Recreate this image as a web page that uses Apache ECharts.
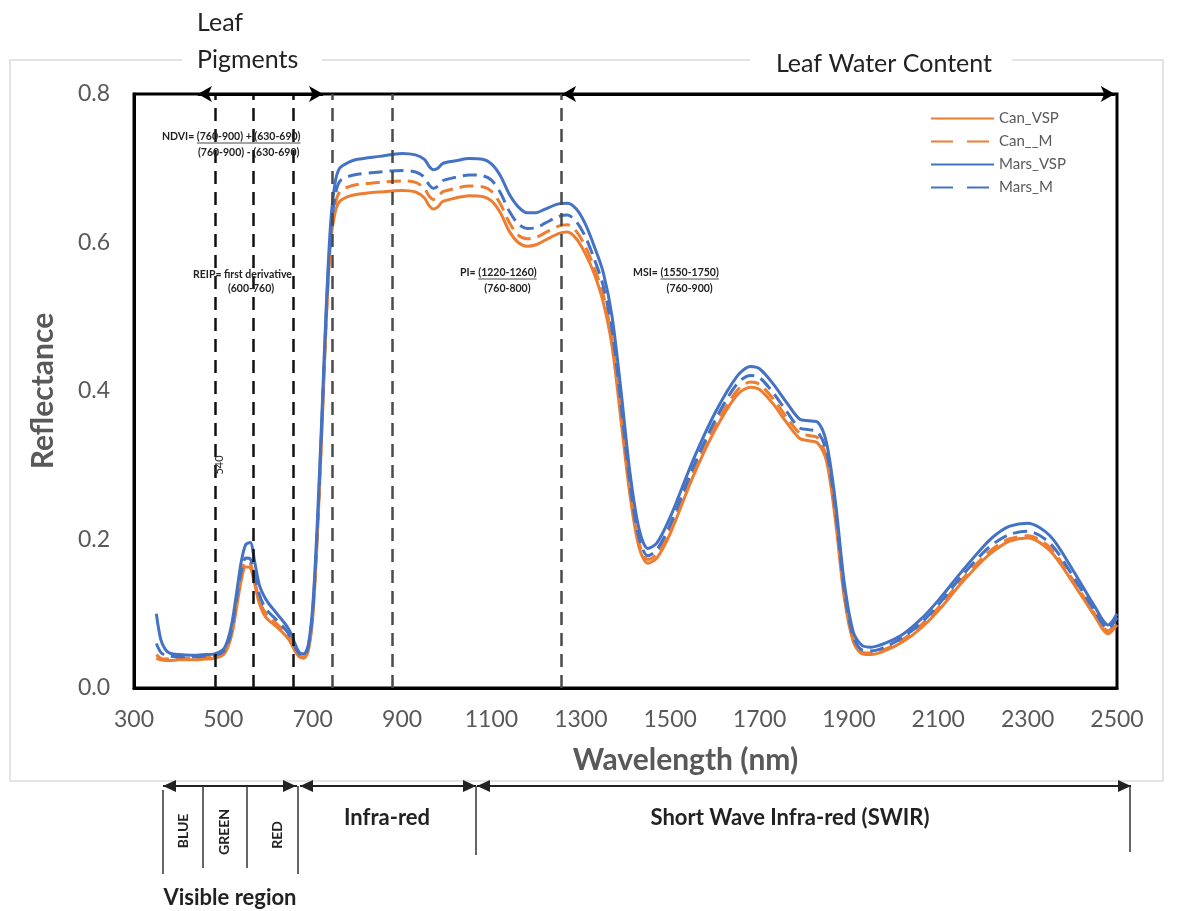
<!DOCTYPE html>
<html><head><meta charset="utf-8">
<script src="https://cdn.jsdelivr.net/npm/echarts@6.0.0/dist/echarts.min.js"></script>
<style>html,body{margin:0;padding:0;background:#fff}#c{width:1179px;height:911px}</style>
</head><body><div id="c"></div><script>
// ---- data ----
const wavelengths = [
  350,360,370,380,400,430,460,480,
  500,510,520,530,540,550,560,570,580,590,600,
  620,640,650,660,670,680,690,700,710,720,730,740,750,760,780,800,
  850,900,930,950,960,970,980,990,1000,1020,1050,1080,1100,
  1120,1140,1160,1180,1200,1220,1250,1270,1290,1310,1330,1350,1370,1390,1410,1430,1450,
  1470,1500,1550,1600,1650,1680,1700,1730,1760,1790,1810,1830,1850,
  1870,1890,1910,1930,1950,1980,2020,2060,2100,2150,2200,2230,2260,2300,2350,2400,2450,2480,2500
];
const canVSP = [
  0.040,0.038,0.037,0.037,0.038,0.038,0.039,0.040,
  0.045,0.055,0.075,0.110,0.145,0.163,0.162,0.140,0.115,0.100,0.092,
  0.082,0.070,0.062,0.050,0.042,0.040,0.050,0.095,0.200,0.340,0.490,0.600,0.640,0.655,0.662,0.665,
  0.668,0.670,0.668,0.660,0.650,0.645,0.648,0.655,0.657,0.660,0.663,0.662,0.656,
  0.640,0.615,0.600,0.595,0.597,0.603,0.612,0.614,0.605,0.585,0.558,0.520,0.460,0.360,0.260,0.190,0.168,
  0.175,0.208,0.283,0.347,0.395,0.405,0.402,0.383,0.358,0.336,0.333,0.330,0.305,
  0.225,0.120,0.062,0.046,0.045,0.050,0.062,0.080,0.104,0.140,0.172,0.187,0.198,0.202,0.185,0.143,0.097,0.073,0.085
];
const canM = [
  0.045,0.040,0.039,0.039,0.040,0.040,0.041,0.042,
  0.047,0.058,0.080,0.118,0.152,0.170,0.168,0.145,0.120,0.105,0.097,
  0.086,0.074,0.065,0.053,0.044,0.042,0.053,0.100,0.205,0.345,0.495,0.605,0.650,0.668,0.675,0.678,
  0.681,0.683,0.681,0.673,0.663,0.658,0.661,0.668,0.670,0.673,0.676,0.675,0.669,
  0.652,0.627,0.610,0.605,0.607,0.613,0.622,0.624,0.615,0.595,0.566,0.530,0.470,0.370,0.266,0.196,0.173,
  0.180,0.213,0.288,0.352,0.401,0.412,0.409,0.390,0.365,0.343,0.340,0.337,0.311,
  0.232,0.125,0.065,0.048,0.047,0.052,0.065,0.084,0.108,0.144,0.176,0.191,0.201,0.205,0.189,0.147,0.100,0.077,0.090
];
const marsVSP = [
  0.100,0.065,0.052,0.047,0.045,0.044,0.045,0.046,
  0.052,0.065,0.090,0.130,0.170,0.193,0.196,0.170,0.140,0.125,0.115,
  0.100,0.085,0.075,0.060,0.048,0.046,0.058,0.110,0.220,0.360,0.510,0.625,0.680,0.700,0.708,0.712,
  0.716,0.720,0.718,0.712,0.703,0.698,0.700,0.706,0.708,0.710,0.713,0.712,0.706,
  0.690,0.665,0.648,0.640,0.640,0.645,0.652,0.653,0.645,0.625,0.595,0.560,0.500,0.400,0.290,0.215,0.188,
  0.195,0.230,0.305,0.370,0.420,0.433,0.430,0.410,0.385,0.362,0.360,0.358,0.330,
  0.250,0.140,0.075,0.057,0.055,0.060,0.072,0.092,0.118,0.155,0.190,0.207,0.218,0.222,0.205,0.160,0.110,0.085,0.100
];
const marsM = [
  0.060,0.048,0.044,0.043,0.042,0.042,0.043,0.044,
  0.049,0.060,0.083,0.122,0.157,0.175,0.174,0.152,0.127,0.112,0.103,
  0.091,0.078,0.069,0.056,0.046,0.044,0.055,0.104,0.210,0.350,0.500,0.612,0.662,0.682,0.689,0.692,
  0.695,0.697,0.695,0.688,0.678,0.673,0.676,0.683,0.685,0.688,0.691,0.690,0.684,
  0.667,0.642,0.625,0.619,0.620,0.626,0.635,0.637,0.628,0.608,0.578,0.542,0.482,0.382,0.275,0.203,0.178,
  0.186,0.220,0.295,0.360,0.410,0.421,0.418,0.398,0.373,0.350,0.348,0.345,0.319,
  0.240,0.130,0.069,0.051,0.050,0.055,0.068,0.087,0.112,0.149,0.182,0.197,0.207,0.211,0.195,0.152,0.104,0.080,0.095
];
const seriesNames = ['Can_VSP','Can__M','Mars_VSP','Mars_M'];
const xTicks = [300,500,700,900,1100,1300,1500,1700,1900,2100,2300,2500];
const yTicks = [0,0.2,0.4,0.6,0.8];
const boundaryLines = [481,567,657,743,878,1256];
const pigmentArrow = [443,723];
const waterArrow = [1258,2495];

// ---- chart ----
const FONT = 'Lato, "Open Sans", sans-serif';
const ORANGE = '#ED7D31', BLUE = '#4472C4';
const pts = ys => wavelengths.map((w,i)=>[w, ys[i]]);
const dash = [14,7];
function mk(name, ys, color, dashed){
  return {name, type:'line', data:pts(ys), symbol:'none', showSymbol:false,
    smooth:0.3, animation:false,
    lineStyle:{color, width:3, type: dashed?dash:'solid'}, itemStyle:{color}};
}
const s0 = mk(seriesNames[0], canVSP, ORANGE, false);
s0.markLine = {
  silent:true, animation:false, symbol:['none','none'], label:{show:false},
  data: boundaryLines.map((v,i)=>({xAxis:v, lineStyle:{color:i<3?'#111':'#4a4a4a', type:[13,8], width:2.5}}))
    .concat([
      [{coord:[pigmentArrow[0],0.8], symbol:'arrow', symbolSize:[12,14], lineStyle:{color:'#000',type:'solid',width:3}},
       {coord:[pigmentArrow[1],0.8], symbol:'arrow', symbolSize:[12,14]}],
      [{coord:[waterArrow[0],0.8], symbol:'arrow', symbolSize:[12,14], lineStyle:{color:'#000',type:'solid',width:3}},
       {coord:[waterArrow[1],0.8], symbol:'arrow', symbolSize:[12,14]}]
    ])
};
const series = [s0, mk(seriesNames[1], canM, ORANGE, true), mk(seriesNames[2], marsVSP, BLUE, false), mk(seriesNames[3], marsM, BLUE, true)];

const measureCtx = document.createElement('canvas').getContext('2d');
const FFONT = 'bold 10.5px ' + FONT;
function tw(s, f){ measureCtx.font = f || FFONT; return measureCtx.measureText(s).width; }

const txt = (x,y,text,opt) => ({type:'text', x, y, silent:true, z:50, style:Object.assign({text, fill:'#222', font:FFONT, textAlign:'left', textVerticalAlign:'middle'}, opt||{})});
const ln = (x1,y1,x2,y2,c,w) => ({type:'line', silent:true, z:50, shape:{x1,y1,x2,y2}, style:{stroke:c||'#333', lineWidth:w||1.5}});
const tri = (tip, y, dir) => ({type:'polygon', silent:true, z:50, shape:{points:[[tip,y],[tip+dir*13,y-6],[tip+dir*13,y+6]]}, style:{fill:'#222'}});

function formula(x, y, prefix, num, den){
  const px = x + tw(prefix);
  const nw = tw(num);
  return [
    txt(x, y, prefix + num),
    ln(px, y+6, px+nw, y+6, '#333', 0.9),
    txt(px + nw/2, y+16, den, {textAlign:'center'})
  ];
}

const vtxt = (x,y,text,font) => ({type:'text', silent:true, z:50, x, y, rotation:Math.PI/2, style:{text, fill:'#222', font, textAlign:'center', textVerticalAlign:'middle'}});

const graphics = [
  {type:'rect', silent:true, z:-10, shape:{x:10,y:60,width:1153,height:721}, style:{fill:'none', stroke:'#dcdcdc', lineWidth:1.5}},
  {type:'rect', silent:true, z:-9, shape:{x:182,y:55,width:140,height:12}, style:{fill:'#fff'}},
  {type:'rect', silent:true, z:-9, shape:{x:750,y:55,width:262,height:12}, style:{fill:'#fff'}},
  txt(197,23,'Leaf',{font:'25px '+FONT}),
  txt(197,60,'Pigments',{font:'25px '+FONT}),
  txt(884,64,'Leaf Water Content',{font:'25px '+FONT, textAlign:'center'}),
  ...formula(162,137,'NDVI= ','(760-900) + (630-690)','(760-900) - (630-690)'),
  txt(193,275,'REIP= first derivative'),
  txt(251,289,'(600-760)',{textAlign:'center'}),
  ...formula(460,273,'PI= ','(1220-1260)','(760-800)'),
  ...formula(633,273,'MSI= ','(1550-1750)','(760-900)'),
  vtxt(219,465,'540','11px '+FONT),
  // bottom region annotations
  ln(163,786,297,786,'#222',2), ln(300,786,476,786,'#222',2), ln(477,786,1131,786,'#222',2),
  tri(163,786,1), tri(296,786,-1), tri(300,786,1), tri(476,786,-1), tri(477,786,1), tri(1131,786,-1),
  ln(163,790,163,874), ln(203,786,203,868), ln(247,786,247,868), ln(298,786,298,874),
  ln(476,786,476,855), ln(1130,786,1130,852),
  vtxt(183,831,'BLUE','bold 14px '+FONT),
  vtxt(224,832,'GREEN','bold 14px '+FONT),
  vtxt(277,835,'RED','bold 14px '+FONT),
  txt(387,818,'Infra-red',{font:'bold 22px '+FONT, textAlign:'center'}),
  txt(790,818,'Short Wave Infra-red (SWIR)',{font:'bold 22px '+FONT, textAlign:'center'}),
  txt(230,898,'Visible region',{font:'bold 22px '+FONT, textAlign:'center'})
];

const chart = echarts.init(document.getElementById('c'), null, {renderer:'canvas'});
chart.setOption({
  animation:false,
  backgroundColor:'#fff',
  grid:{left:134, right:62, top:94, bottom:223, show:true, borderColor:'#000', borderWidth:3, backgroundColor:'transparent'},
  legend:{
    orient:'vertical', left:925, top:106, itemWidth:63, itemHeight:14, itemGap:8,
    itemStyle:{opacity:0},
    textStyle:{fontSize:15, color:'#595959', fontFamily:FONT},
    data:[
      {name:seriesNames[0]},
      {name:seriesNames[1], lineStyle:{type:[22,14]}},
      {name:seriesNames[2]},
      {name:seriesNames[3], lineStyle:{type:[22,14]}}
    ]
  },
  xAxis:{
    type:'value', min:300, max:2500,
    axisLine:{show:true, lineStyle:{color:'#000', width:3}},
    axisTick:{show:false}, splitLine:{show:false},
    axisLabel:{customValues:xTicks, formatter:v=>String(v), fontSize:23, color:'#595959', margin:20, fontFamily:FONT},
    name:'Wavelength (nm)', nameLocation:'middle', nameGap:57,
    nameTextStyle:{fontSize:30, fontWeight:'bold', color:'#595959', fontFamily:FONT, padding:[0,0,0,120]}
  },
  yAxis:{
    type:'value', min:0, max:0.8, interval:0.2,
    axisLine:{show:true, lineStyle:{color:'#000', width:3}},
    axisTick:{show:false}, splitLine:{show:false},
    axisLabel:{customValues:yTicks, formatter:v=>v.toFixed(1), fontSize:23, color:'#595959', margin:24, fontFamily:FONT},
    name:'Reflectance', nameLocation:'middle', nameGap:76,
    nameTextStyle:{fontSize:30, fontWeight:'bold', color:'#595959', fontFamily:FONT}
  },
  series,
  graphic:graphics
});
</script></body></html>
